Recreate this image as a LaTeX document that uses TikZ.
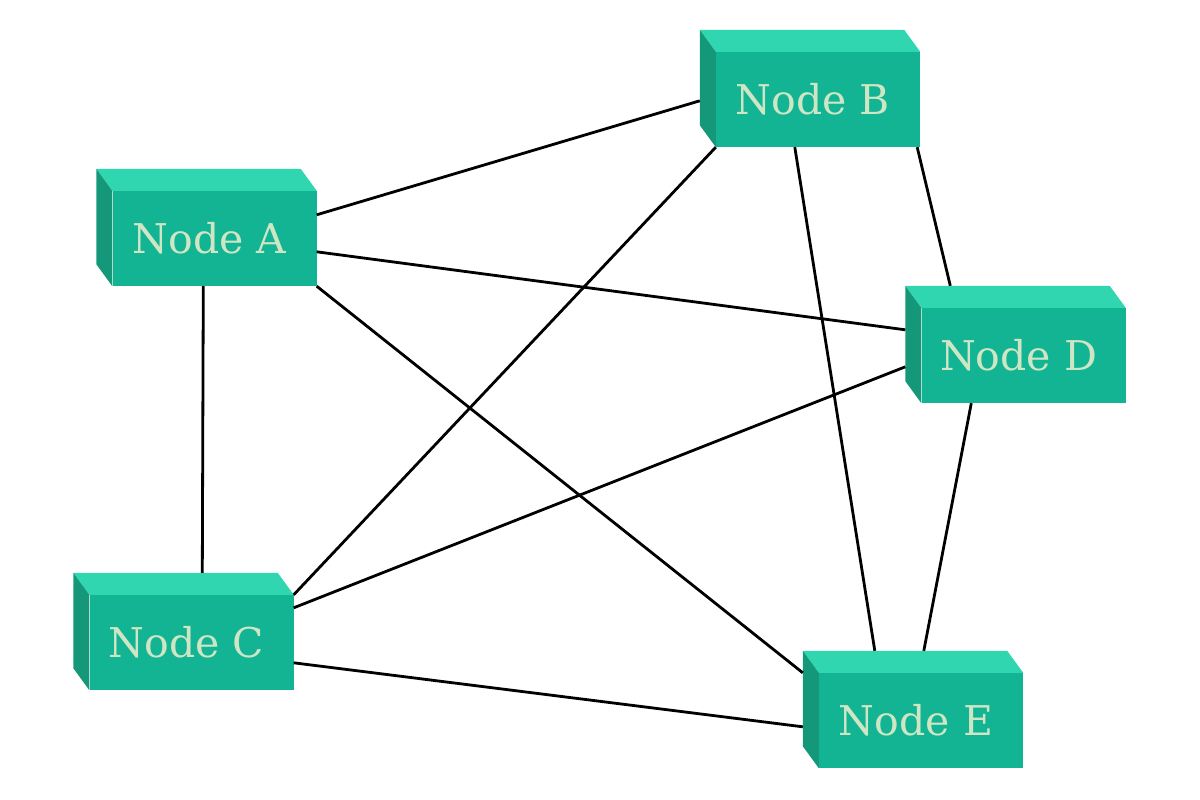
\documentclass[tikz,border=0pt]{standalone}
\usepackage{fontspec}
\setmainfont{DejaVu Serif}
\usetikzlibrary{calc}
\definecolor{frontc}{RGB}{18,180,148}
\definecolor{topc}{RGB}{47,214,176}
\definecolor{sidec}{RGB}{21,152,121}
\definecolor{txtc}{RGB}{206,230,196}
\tikzset{
  box3d/.style={rectangle, minimum width=204pt, minimum height=95pt, inner sep=0pt,
    fill=frontc, text=txtc, font=\fontsize{41}{48}\selectfont},
  conn/.style={draw=black, line width=2.8pt},
}
\begin{document}
\begin{tikzpicture}[x=1pt,y=-1pt]
\useasboundingbox (0,0) rectangle (1200,800);
\node[box3d] (A) at (214.5,238.5) {\raisebox{2pt}{Node A}\kern10pt};
\node[box3d] (B) at (818,99.5) {\raisebox{2pt}{Node B}\kern10pt};
\node[box3d] (C) at (191.5,642.5) {\raisebox{2pt}{Node C}\kern10pt};
\node[box3d] (D) at (1023.5,355.5) {\raisebox{2pt}{Node D}\kern10pt};
\node[box3d] (E) at (921,720.5) {\raisebox{2pt}{Node E}\kern10pt};
\foreach \n in {A,B,C,D,E}{
  \fill[topc] (\n.north west) -- ($(\n.north west)+(-16,-22)$) -- ($(\n.north east)+(-16,-22)$) -- (\n.north east) -- cycle;
  \fill[sidec] (\n.north west) -- ($(\n.north west)+(-16,-22)$) -- ($(\n.south west)+(-16,-22)$) -- (\n.south west) -- cycle;
}
% connectors
\draw[conn] ($(A.north east)+(0,24)$) -- ($(B.north west)+(-16,49)$);
\draw[conn] ($(A.north east)+(0,61)$) -- ($(D.north west)+(-16,22)$);
\draw[conn] (A.south east) -- ($(E.north west)+(-16,0)$);
\draw[conn] ($(A.south west)+(91,0)$) -- ($(C.north west)+(113,-22)$);
\draw[conn] (B.south west) -- (C.north east);
\draw[conn] ($(B.south west)+(79,0)$) -- ($(E.north west)+(56,-22)$);
\draw[conn] ($(B.south east)+(-3,0)$) -- ($(D.north west)+(29,-22)$);
\draw[conn] ($(C.north east)+(0,13)$) -- ($(D.north west)+(-16,59)$);
\draw[conn] ($(C.north east)+(0,68)$) -- ($(E.north west)+(-16,54)$);
\draw[conn] ($(D.south west)+(50,0)$) -- ($(E.north west)+(105,-22)$);
\end{tikzpicture}
\end{document}
